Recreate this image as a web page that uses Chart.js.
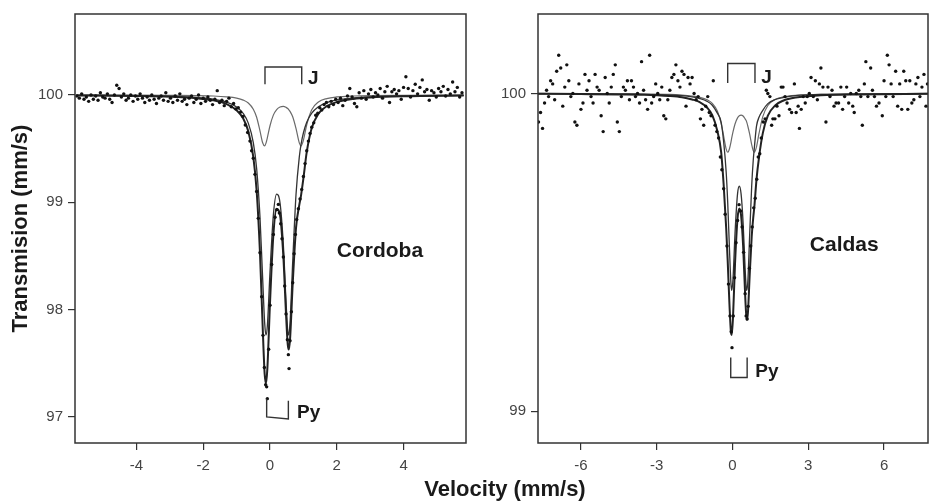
<!DOCTYPE html>
<html>
<head>
<meta charset="utf-8">
<script src="https://cdn.jsdelivr.net/npm/chart.js@4.4.1/dist/chart.umd.min.js"></script>
<style>
  html, body { margin: 0; padding: 0; background: #fff; }
  #page { position: relative; width: 932px; height: 504px; overflow: hidden; background: #fff; }
  .panel { position: absolute; top: 0; height: 504px; }
  #leftPanel { left: 0; width: 470px; }
  #rightPanel { left: 470px; width: 462px; }
  #xTitle {
    position: absolute; left: 385px; width: 240px; top: 477px;
    text-align: center; font: bold 22px 'Liberation Sans', Arial, sans-serif;
    line-height: 24px; color: #1a1a1a;
  }
</style>
</head>
<body>
<div id="page">
  <div class="panel" id="leftPanel"><canvas id="chartLeft"></canvas></div>
  <div class="panel" id="rightPanel"><canvas id="chartRight"></canvas></div>
  <div id="xTitle">Velocity (mm/s)</div>
</div>
<script>
// ---- Cordoba (left panel) ----
// fitted curves, sampled at these velocities
var leftVel = [-5.8, -4, -3, -2.2, -1.7, -1.3, -1.0, -0.8, -0.65, -0.5, -0.4, -0.3, -0.22, -0.16, -0.12, -0.08, 0, 0.1, 0.2, 0.3,
  0.4, 0.48, 0.53, 0.56, 0.6, 0.68, 0.78, 0.88, 0.93, 1.0, 1.1, 1.25, 1.45, 1.7, 2.0, 2.5, 3, 4, 5.8];
var leftTotal = [99.995, 99.990, 99.983, 99.969, 99.950, 99.915, 99.858, 99.779, 99.662, 99.423, 99.107, 98.527, 97.844, 97.401, 97.314,
  97.445, 98.062, 98.691, 98.939, 98.881, 98.495, 97.957, 97.680, 97.627, 97.723, 98.241, 98.763, 98.980, 99.065, 99.222, 99.467,
  99.692, 99.824, 99.895, 99.934, 99.963, 99.976, 99.987, 99.994];
var leftPy = [99.996, 99.992, 99.987, 99.976, 99.960, 99.933, 99.888, 99.827, 99.737, 99.556, 99.315, 98.862, 98.290, 97.876, 97.763,
  97.845, 98.349, 98.879, 99.075, 98.994, 98.602, 98.073, 97.807, 97.763, 97.876, 98.445, 99.077, 99.429, 99.540, 99.645, 99.745,
  99.830, 99.890, 99.929, 99.953, 99.972, 99.982, 99.990, 99.996];
var leftJ = [99.999, 99.998, 99.996, 99.994, 99.990, 99.982, 99.970, 99.952, 99.925, 99.867, 99.792, 99.665, 99.554, 99.525, 99.551,
  99.600, 99.713, 99.812, 99.864, 99.887, 99.893, 99.884, 99.873, 99.864, 99.847, 99.796, 99.686, 99.551, 99.525, 99.577, 99.722,
  99.862, 99.934, 99.966, 99.981, 99.990, 99.994, 99.997, 99.999];

// measured points
var leftDotVel = [-5.78, -5.71, -5.64, -5.57, -5.50, -5.43, -5.36, -5.29, -5.22, -5.15, -5.08, -5.01, -4.94, -4.87, -4.80, -4.73, -4.66,
  -4.59, -4.52, -4.45, -4.38, -4.31, -4.24, -4.17, -4.10, -4.03, -3.96, -3.89, -3.82, -3.75, -3.68, -3.61, -3.54, -3.47, -3.40, -3.33,
  -3.26, -3.19, -3.12, -3.05, -2.98, -2.91, -2.84, -2.77, -2.70, -2.63, -2.56, -2.49, -2.42, -2.35, -2.28, -2.21, -2.14, -2.07, -2.00,
  -1.93, -1.86, -1.79, -1.72, -1.65, -1.58, -1.51, -1.44, -1.37, -1.30, -1.23, -1.16, -1.09, -1.02, -0.95, -0.88, -0.81,
  -0.74, -0.67, -0.60, -0.55, -0.50, -0.45, -0.40, -0.35, -0.30, -0.25, -0.21, -0.17, -0.13, -0.10, -0.08, -0.04, 0.00, 0.05, 0.10,
  0.15, 0.20, 0.25, 0.28, 0.32, 0.36, 0.40, 0.44, 0.48, 0.52, 0.55, 0.57, 0.60, 0.64, 0.68, 0.72, 0.76, 0.80, 0.85, 0.90, 0.95, 1.00,
  1.05, 1.10, 1.15, 1.20, 1.25, 1.31, 1.37, 1.43, 1.49,
  1.55, 1.62, 1.69, 1.76, 1.83, 1.90, 1.97, 2.04, 2.11, 2.18, 2.25, 2.32, 2.39, 2.46, 2.53, 2.60, 2.67, 2.74, 2.81, 2.88, 2.95, 3.02,
  3.09, 3.16, 3.23, 3.30, 3.37, 3.44, 3.51, 3.58, 3.65, 3.72, 3.79, 3.86, 3.93, 4.00, 4.07, 4.14, 4.21, 4.28, 4.35, 4.42, 4.49, 4.56,
  4.63, 4.70, 4.77, 4.84, 4.91, 4.98, 5.05, 5.12, 5.19, 5.26, 5.33, 5.40, 5.47, 5.54, 5.61, 5.68, 5.75];
var leftDotT = [99.99, 99.97, 100.01, 99.96, 99.98, 99.94, 100.00, 99.96, 99.99, 99.95, 100.02, 99.98, 99.97, 100.01, 99.96, 99.93, 100.00,
  100.09, 100.06, 99.98, 100.01, 99.95, 99.97, 100.00, 99.94, 99.99, 99.96, 100.01, 99.97, 99.93, 99.98, 99.95, 100.00, 99.96, 99.92, 99.97,
  99.99, 99.95, 100.02, 99.94, 99.97, 99.93, 99.99, 99.95, 100.01, 99.94, 99.96, 99.91, 99.97, 99.99, 99.93, 99.96, 100.00, 99.92, 99.97,
  99.94, 99.98, 99.95, 99.91, 99.96, 100.04, 99.93, 99.95, 99.90, 99.94, 99.97, 99.89, 99.92, 99.87, 99.88, 99.84, 99.80,
  99.72, 99.65, 99.57, 99.48, 99.41, 99.26, 99.10, 98.85, 98.53, 98.12, 97.76, 97.46, 97.30, 97.28, 97.17, 97.63, 98.04, 98.42, 98.70,
  98.86, 98.93, 98.98, 98.90, 98.80, 98.66, 98.49, 98.22, 97.96, 97.72, 97.58, 97.45, 97.71, 97.98, 98.25, 98.52, 98.70, 98.84, 98.94,
  99.03, 99.12, 99.24, 99.36, 99.48, 99.57, 99.64, 99.70, 99.74, 99.81, 99.83, 99.88,
  99.86, 99.91, 99.93, 99.89, 99.94, 99.91, 99.96, 99.93, 99.97, 99.90, 99.95, 99.99, 100.06, 99.98, 99.92, 99.89, 100.02, 99.97, 100.04,
  99.96, 100.01, 100.05, 99.98, 100.02, 100.00, 100.06, 99.97, 100.03, 100.08, 99.93, 100.03, 100.05, 100.01, 100.04, 99.96, 100.07,
  100.17, 100.06, 99.98, 100.04, 100.10, 100.01, 100.07, 100.14, 100.03, 100.05, 99.95, 100.04, 100.02, 99.98, 100.06, 100.03, 100.08,
  99.99, 100.05, 100.01, 100.12, 100.03, 100.07, 99.98, 100.02];

// ---- Caldas (right panel) ----
var rightVel = [-7.7, -6, -4.5, -3.5, -2.5, -2.0, -1.6, -1.3, -1.0, -0.8, -0.6, -0.45, -0.35, -0.25, -0.19, -0.12, -0.06, -0.03, 0.02,
  0.1, 0.2, 0.27, 0.34, 0.42, 0.5, 0.54, 0.57, 0.61, 0.68, 0.76, 0.82, 0.87, 0.95, 1.05, 1.2, 1.4, 1.7, 2.0, 2.5, 3.5, 5, 7.74];
var rightTotal = [99.999, 99.998, 99.997, 99.996, 99.992, 99.988, 99.981, 99.973, 99.955, 99.932, 99.882, 99.816, 99.713, 99.577,
  99.473, 99.336, 99.247, 99.240, 99.295, 99.464, 99.607, 99.638, 99.616, 99.522, 99.368, 99.307, 99.288, 99.309, 99.427, 99.549,
  99.608, 99.648, 99.729, 99.799, 99.875, 99.930, 99.963, 99.977, 99.987, 99.994, 99.997, 99.999];
var rightPy = [99.999, 99.999, 99.998, 99.997, 99.995, 99.993, 99.989, 99.984, 99.975, 99.963, 99.938, 99.910, 99.848, 99.752,
  99.658, 99.511, 99.400, 99.380, 99.416, 99.560, 99.684, 99.708, 99.684, 99.593, 99.448, 99.392, 99.380, 99.413, 99.555, 99.709,
  99.788, 99.833, 99.897, 99.925, 99.947, 99.968, 99.981, 99.987, 99.993, 99.997, 99.998, 99.999];
var rightJ = [100.000, 99.999, 99.999, 99.998, 99.997, 99.995, 99.992, 99.988, 99.980, 99.969, 99.945, 99.906, 99.866, 99.825,
  99.815, 99.826, 99.847, 99.860, 99.879, 99.904, 99.923, 99.930, 99.932, 99.929, 99.920, 99.915, 99.908, 99.896, 99.872, 99.839,
  99.820, 99.815, 99.832, 99.874, 99.927, 99.962, 99.982, 99.989, 99.994, 99.997, 99.999, 100.000];

var rightDotVel = [-7.68, -7.60, -7.52, -7.44, -7.36, -7.28, -7.20, -7.12, -7.04, -6.96, -6.88, -6.80, -6.72, -6.64, -6.56, -6.48,
  -6.40, -6.32, -6.24, -6.16, -6.08, -6.00, -5.92, -5.84, -5.76, -5.68, -5.60, -5.52, -5.44, -5.36, -5.28, -5.20, -5.12, -5.04, -4.96,
  -4.88, -4.80, -4.72, -4.64, -4.56, -4.48, -4.40, -4.32, -4.24, -4.16, -4.08, -4.00, -3.92, -3.84, -3.76, -3.68, -3.60, -3.52, -3.44,
  -3.36, -3.28, -3.20, -3.12, -3.04, -2.96, -2.88, -2.80, -2.72, -2.64, -2.56, -2.48, -2.40, -2.32, -2.24, -2.16, -2.08, -2.00, -1.92,
  -1.84, -1.76, -1.68, -1.60, -1.52, -1.44, -1.36, -1.27, -1.21, -1.14, -1.06, -0.98, -0.92, -0.85, -0.76, -0.69, -0.62, -0.55, -0.48,
  -0.42, -0.35, -0.29, -0.22, -0.16, -0.10, -0.05, -0.02, 0.03, 0.08, 0.14, 0.20, 0.26, 0.32, 0.38, 0.44, 0.50, 0.54, 0.58, 0.62, 0.67,
  0.72, 0.78, 0.84, 0.90, 0.96, 1.02, 1.08, 1.14, 1.22, 1.29, 1.34, 1.40, 1.48, 1.55, 1.60, 1.68, 1.76, 1.84, 1.93, 2.00, 2.08, 2.16,
  2.26, 2.34, 2.45, 2.52, 2.60, 2.65, 2.72, 2.80, 2.88, 2.96, 3.04, 3.11, 3.20, 3.28, 3.36, 3.44, 3.50, 3.58, 3.70, 3.78, 3.86, 3.94,
  4.02, 4.10, 4.20, 4.29, 4.36, 4.44, 4.52, 4.60, 4.68, 4.76, 4.82, 4.90, 5.00, 5.08, 5.14, 5.22, 5.28, 5.36, 5.47, 5.54, 5.62, 5.70,
  5.80, 5.93, 6.00, 6.07, 6.13, 6.20, 6.28, 6.36, 6.46, 6.54, 6.62, 6.70, 6.78, 6.86, 6.94, 7.02, 7.10, 7.18, 7.26, 7.34, 7.42, 7.50,
  7.58, 7.66, 7.72];
var rightDotT = [99.91, 99.94, 99.89, 99.97, 100.01, 99.99, 100.04, 100.03, 99.98, 100.07, 100.12, 100.08, 99.96, 100.02, 100.09, 100.04,
  99.99, 100.00, 99.91, 99.90, 100.03, 99.95, 99.97, 100.06, 100.01, 100.04, 99.99, 99.97, 100.06, 100.02, 100.01, 99.93, 99.88, 100.05,
  100.00, 99.97, 100.02, 100.06, 100.09, 99.91, 99.88, 99.99, 100.02, 100.01, 100.04, 99.98, 100.04, 100.02, 99.99, 100.00, 99.97, 100.10,
  100.01, 99.98, 99.95, 100.12, 99.97, 99.99, 100.03, 100.00, 99.98, 100.02, 99.93, 99.92, 99.98, 100.01, 100.05, 100.06, 100.09, 100.04,
  100.02, 100.07, 100.06, 99.96, 100.05, 100.03, 100.05, 100.00, 99.98, 99.99, 99.92, 99.95, 99.90, 99.96, 99.99, 99.94, 99.93, 100.04,
  99.90, 99.88, 99.86, 99.80, 99.76, 99.70, 99.62, 99.52, 99.40, 99.30, 99.25, 99.20, 99.30, 99.42, 99.53, 99.60, 99.65, 99.63, 99.58,
  99.50, 99.37, 99.30, 99.29, 99.33, 99.45, 99.52, 99.58, 99.64, 99.67, 99.73, 99.80, 99.81, 99.86, 99.91, 99.92, 100.01, 100.00, 99.99,
  99.90, 99.92, 99.92, 99.96, 99.93, 100.02, 100.02, 99.99, 99.97, 99.95, 99.94, 100.03, 99.94, 99.96, 99.89, 99.95, 99.99, 99.97, 99.99,
  100.00, 100.05, 99.99, 100.04, 99.98, 100.03, 100.08, 100.02, 99.91, 100.02, 99.99, 100.01, 99.96, 99.97, 99.97, 100.02, 99.95, 99.99,
  100.02, 99.97, 100.00, 99.96, 99.94, 100.00, 100.01, 99.99, 99.90, 100.03, 100.10, 99.99, 100.08, 100.01, 99.99, 99.96, 99.97, 99.93,
  100.04, 99.99, 100.12, 100.09, 100.03, 99.99, 100.07, 99.96, 100.03, 99.95, 100.07, 100.04, 99.95, 100.04, 99.97, 99.98, 100.03, 100.05,
  99.99, 100.02, 100.06, 99.96, 100.03];

function zip(xs, ys) {
  return xs.map(function (x, i) { return { x: x, y: ys[i] }; });
}

Chart.defaults.font.family = "'Liberation Sans Narrow', 'Liberation Sans', Arial, sans-serif";
Chart.defaults.color = '#444';

// box round the plot, doublet brackets and the text labels
var figureMarks = {
  id: 'figureMarks',
  afterDatasetsDraw: function (chart, args, opts) {
    var ctx = chart.ctx, a = chart.chartArea;
    var xs = chart.scales.x, ys = chart.scales.y;
    ctx.save();
    ctx.strokeStyle = '#333';
    ctx.lineWidth = 1.5;
    ctx.strokeRect(a.left, a.top, a.right - a.left, a.bottom - a.top);
    ctx.lineWidth = 1.4;
    opts.brackets.forEach(function (b) {
      ctx.beginPath();
      ctx.moveTo(xs.getPixelForValue(b.x0), ys.getPixelForValue(b.end0));
      ctx.lineTo(xs.getPixelForValue(b.x0), ys.getPixelForValue(b.bar0));
      ctx.lineTo(xs.getPixelForValue(b.x1), ys.getPixelForValue(b.bar1));
      ctx.lineTo(xs.getPixelForValue(b.x1), ys.getPixelForValue(b.end1));
      ctx.stroke();
    });
    ctx.fillStyle = '#1a1a1a';
    ctx.textAlign = 'left';
    ctx.textBaseline = 'middle';
    opts.labels.forEach(function (l) {
      ctx.font = 'bold ' + l.size + "px 'Liberation Sans', Arial, sans-serif";
      ctx.fillText(l.text, xs.getPixelForValue(l.x), ys.getPixelForValue(l.y));
    });
    ctx.restore();
  }
};

function buildDatasets(dotV, dotT, vel, total, py, j) {
  return [{
    label: 'data',
    data: zip(dotV, dotT),
    pointRadius: 1.7,
    pointBackgroundColor: '#111',
    pointBorderWidth: 0
  }, {
    label: 'fit',
    data: zip(vel, total),
    showLine: true,
    pointRadius: 0,
    borderColor: '#222',
    borderWidth: 2,
    cubicInterpolationMode: 'monotone'
  }, {
    label: 'Py',
    data: zip(vel, py),
    showLine: true,
    pointRadius: 0,
    borderColor: '#333',
    borderWidth: 1.3,
    cubicInterpolationMode: 'monotone'
  }, {
    label: 'J',
    data: zip(vel, j),
    showLine: true,
    pointRadius: 0,
    borderColor: '#6a6a6a',
    borderWidth: 1.2,
    cubicInterpolationMode: 'monotone'
  }];
}

function axisGrid() {
  return { drawOnChartArea: false, drawTicks: true, tickLength: 7, color: '#333', lineWidth: 1.2 };
}

var chartLeft = new Chart(
  document.getElementById('chartLeft'),
  {
    type: 'scatter',
    data: { datasets: buildDatasets(leftDotVel, leftDotT, leftVel, leftTotal, leftPy, leftJ) },
    plugins: [figureMarks],
    options: {
      responsive: true,
      maintainAspectRatio: false,
      animation: false,
      events: [],
      layout: { padding: { top: 10, right: 4, bottom: 0, left: 0 } },
      scales: {
        x: {
          type: 'linear',
          min: -5.84,
          max: 5.87,
          ticks: { stepSize: 2, includeBounds: false, maxRotation: 0, autoSkip: false, padding: 7, font: { size: 15 } },
          grid: axisGrid(),
          border: { display: false },
          afterFit: function (s) { s.height = 61; }
        },
        y: {
          min: 96.757,
          max: 100.754,
          ticks: { stepSize: 1, includeBounds: false, padding: 5, font: { size: 15 } },
          grid: axisGrid(),
          border: { display: false },
          title: {
            display: true,
            text: 'Transmision (mm/s)',
            color: '#1a1a1a',
            padding: { top: 8, bottom: 0 },
            font: { size: 22, weight: 'bold', family: "'Liberation Sans', Arial, sans-serif" }
          },
          afterFit: function (s) { s.width = 75; }
        }
      },
      plugins: {
        legend: { display: false },
        tooltip: { enabled: false },
        figureMarks: {
          brackets: [
            { x0: -0.15, x1: 0.95, bar0: 100.26, bar1: 100.26, end0: 100.1, end1: 100.1 },
            { x0: -0.1, x1: 0.55, bar0: 97.0, bar1: 96.98, end0: 97.17, end1: 97.15 }
          ],
          labels: [
            { text: 'J', x: 1.14, y: 100.154, size: 19 },
            { text: 'Py', x: 0.81, y: 97.04, size: 19 },
            { text: 'Cordoba', x: 2.0, y: 98.54, size: 21 }
          ]
        }
      }
    }
  }
);

var chartRight = new Chart(
  document.getElementById('chartRight'),
  {
    type: 'scatter',
    data: { datasets: buildDatasets(rightDotVel, rightDotT, rightVel, rightTotal, rightPy, rightJ) },
    plugins: [figureMarks],
    options: {
      responsive: true,
      maintainAspectRatio: false,
      animation: false,
      events: [],
      layout: { padding: { top: 11, right: 1, bottom: 0, left: 0 } },
      scales: {
        x: {
          type: 'linear',
          min: -7.7,
          max: 7.74,
          ticks: { stepSize: 3, includeBounds: false, maxRotation: 0, autoSkip: false, padding: 7, font: { size: 15 } },
          grid: axisGrid(),
          border: { display: false },
          afterFit: function (s) { s.height = 61; }
        },
        y: {
          min: 98.9,
          max: 100.25,
          ticks: { stepSize: 1, includeBounds: false, padding: 5, font: { size: 15 } },
          grid: axisGrid(),
          border: { display: false },
          afterFit: function (s) { s.width = 68; }
        }
      },
      plugins: {
        legend: { display: false },
        tooltip: { enabled: false },
        figureMarks: {
          brackets: [
            { x0: -0.19, x1: 0.89, bar0: 100.094, bar1: 100.094, end0: 100.033, end1: 100.033 },
            { x0: -0.07, x1: 0.58, bar0: 99.106, bar1: 99.106, end0: 99.169, end1: 99.169 }
          ],
          labels: [
            { text: 'J', x: 1.14, y: 100.05, size: 19 },
            { text: 'Py', x: 0.9, y: 99.124, size: 19 },
            { text: 'Caldas', x: 3.06, y: 99.524, size: 21 }
          ]
        }
      }
    }
  }
);
</script>
</body>
</html>
